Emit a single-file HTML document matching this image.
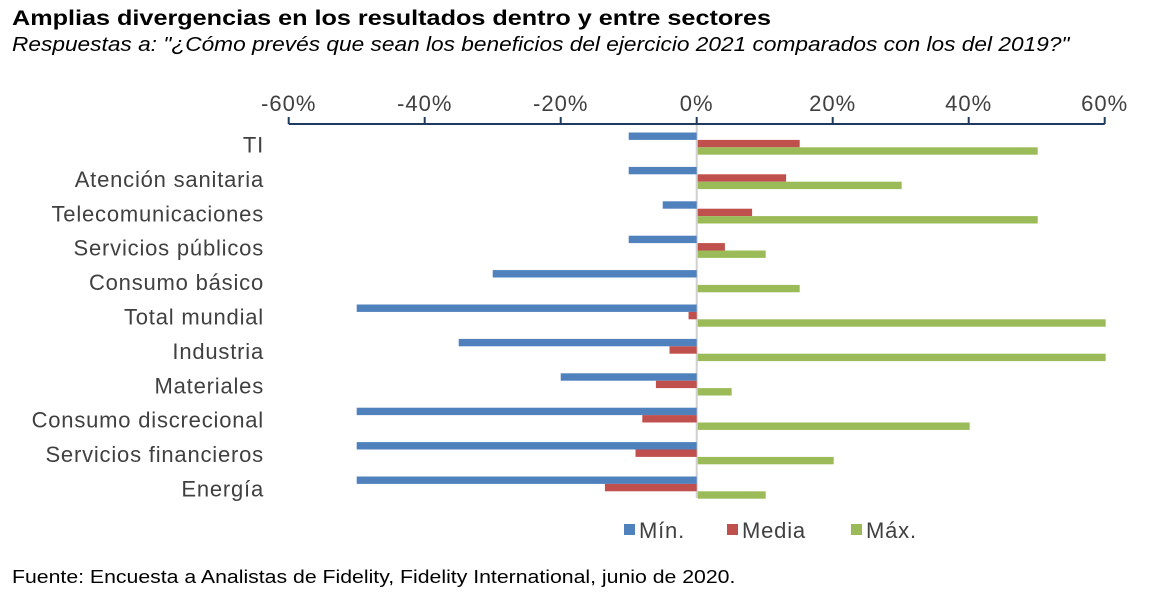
<!DOCTYPE html>
<html><head><meta charset="utf-8"><style>
body{margin:0;background:#fff;width:1158px;height:611px;overflow:hidden;font-family:"Liberation Sans",sans-serif;}
#title{position:absolute;left:12px;top:7px;font-size:21px;font-weight:bold;color:#000;transform:scaleX(1.2);transform-origin:left;white-space:nowrap;}
#sub{position:absolute;left:12px;top:34px;font-size:20px;font-style:italic;color:#000;transform:scaleX(1.134);transform-origin:left;white-space:nowrap;}
#foot{position:absolute;left:12px;top:567px;font-size:18px;color:#000;transform:scaleX(1.18);transform-origin:left;white-space:nowrap;}
svg{position:absolute;left:0;top:0;}
</style></head><body>
<div id="title">Amplias divergencias en los resultados dentro y entre sectores</div>
<div id="sub">Respuestas a: "¿Cómo prevés que sean los beneficios del ejercicio 2021 comparados con los del 2019?"</div>
<svg id="chart" width="1158" height="611"></svg>
<div id="foot">Fuente: Encuesta a Analistas de Fidelity, Fidelity International, junio de 2020.</div>
<script>
const categories=["TI","Atención sanitaria","Telecomunicaciones","Servicios públicos","Consumo básico","Total mundial","Industria","Materiales","Consumo discrecional","Servicios financieros","Energía"];
const minVals=[-10,-10,-5,-10,-30,-50,-35,-20,-50,-50,-50];
const mediaVals=[15,13,8,4,0,-1.2,-4,-6,-8,-9,-13.5];
const maxVals=[50,30,50,10,15,60,60,5,40,20,10];
const ticks=[-60,-40,-20,0,20,40,60];
const seriesNames=["Mín.","Media","Máx."];
const colors=["#4f81bd","#c0504d","#9bbb59"];
const NS="http://www.w3.org/2000/svg";
const svg=document.getElementById("chart");
const x0=696.7,k=6.8;
const xs=v=>x0+v*k;
const rowY=i=>132.5+i*34.4;
function mk(t,a){const e=document.createElementNS(NS,t);for(const n in a)e.setAttribute(n,a[n]);svg.appendChild(e);return e;}
let z=mk("line",{x1:xs(0),x2:xs(0),y1:124,y2:498,stroke:"#d0d0d0","stroke-width":2});


let ax=mk("line",{x1:xs(-60),x2:xs(60),y1:124,y2:124,stroke:"#1f3a5f","stroke-width":2});


ticks.forEach(t=>{
 let l=mk("line",{x1:xs(t),x2:xs(t),y1:117,y2:124,stroke:"#1f3a5f","stroke-width":2});
 
 
 let tx=mk("text",{x:xs(t),y:111,"text-anchor":"middle","font-size":22,"letter-spacing":1,fill:"#404040","font-family":"Liberation Sans, sans-serif"});
 tx.textContent=t+"%";
 
 
});
const all=[minVals,mediaVals,maxVals];
categories.forEach((c,i)=>{
 let tx=mk("text",{x:264,y:rowY(i)+20,"text-anchor":"end","font-size":22,"letter-spacing":0.8,fill:"#404040","font-family":"Liberation Sans, sans-serif"});
 tx.textContent=c;
 
 
 all.forEach((arr,s)=>{
  const v=arr[i];
  const a=Math.min(xs(0),xs(v)),w=Math.abs(xs(v)-xs(0));
  let r=mk("rect",{x:v<0?a:a+1,y:rowY(i)+s*7.4,width:w,height:7.4,fill:colors[s]});
  
  
 });
});
const legX=[624,727,851];
seriesNames.forEach((n,s)=>{
 let r=mk("rect",{x:legX[s],y:524,width:11,height:11,fill:colors[s]});
 
 
 let t=mk("text",{x:legX[s]+15,y:538,"font-size":22,"letter-spacing":0.8,fill:"#404040","font-family":"Liberation Sans, sans-serif"});
 t.textContent=n;
 
 
});
</script>
</body></html>
